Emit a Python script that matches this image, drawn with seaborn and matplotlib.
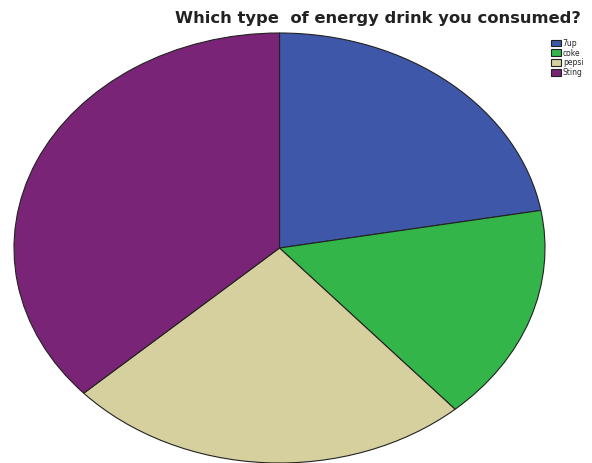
import matplotlib
matplotlib.use("Agg")
import matplotlib.pyplot as plt
import seaborn as sns

categories = ["7up", "coke", "pepsi", "Sting"]
values = [22.2, 16.3, 24.7, 36.8]
colors_hex = ["#3F57A8", "#33B54A", "#D6CF9E", "#7A2477"]

sns.set_theme(style="white")
plt.rcParams['font.family'] = ['DejaVu Sans']
palette = sns.color_palette(colors_hex)

fig = plt.figure(figsize=(5.92, 4.63), dpi=100)
ax = fig.add_axes([14/592, 0.0, 531/592, 430/463])
wedges, _ = ax.pie(values, colors=palette, startangle=90, counterclock=False,
                   wedgeprops=dict(edgecolor="#222222", linewidth=0.8))
ax.set_aspect('auto')
ax.set_xlim(-1.0, 1.0)
ax.set_ylim(-1.0, 1.0)
ax.axis('off')

fig.text(378/592, 1 - 19/463, "Which type  of energy drink you consumed?",
         ha="center", va="center", fontsize=11.8, fontweight="bold", color="#222222")

leg = fig.legend(wedges, categories, loc="upper left", bbox_to_anchor=(546/592, 1 - 34/463),
                 frameon=False, fontsize=5.5, handlelength=1.3, handleheight=1.0,
                 handletextpad=0.3, labelspacing=0.12, borderpad=0.1)

fig.savefig("out.png", dpi=100)
